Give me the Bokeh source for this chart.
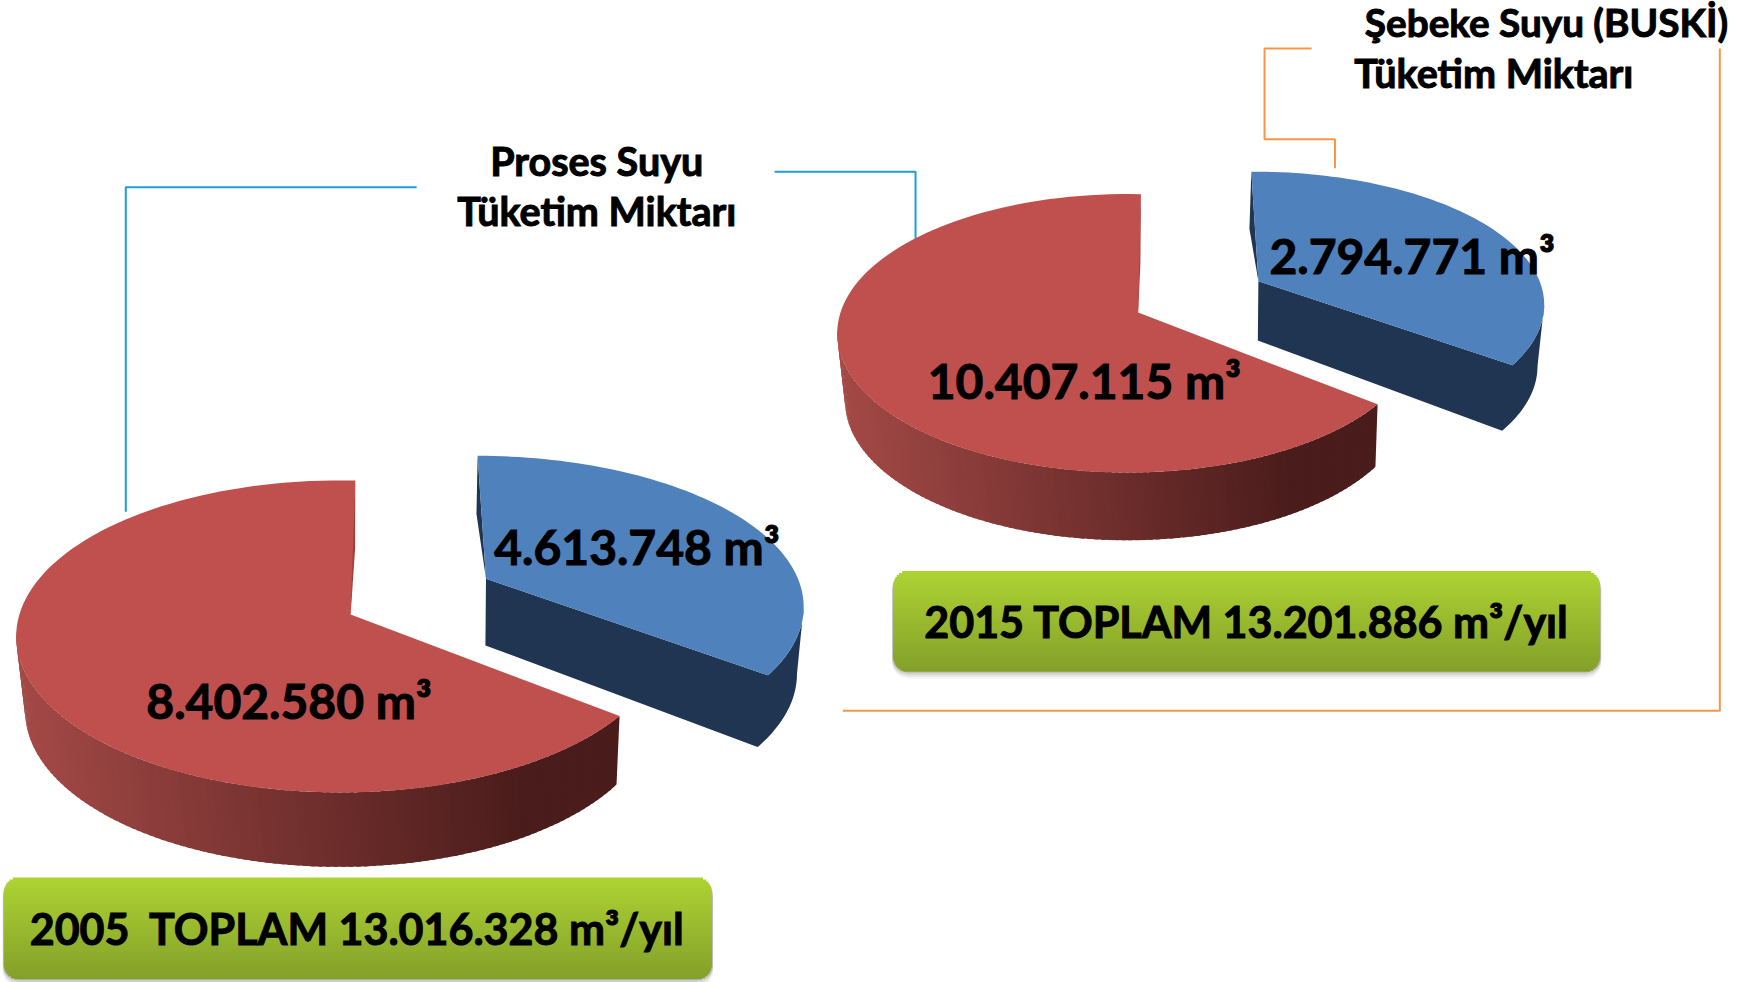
import math
from bokeh.plotting import figure
from bokeh.models import Range1d
from bokeh.core.properties import value
from bokeh.embed import file_html
from bokeh.resources import INLINE

# ---- data ----
years = ["2005", "2015"]
process_water = [8402580, 10407115]
mains_water = [4613748, 2794771]
process_labels = ["8.402.580 m³", "10.407.115 m³"]
mains_labels = ["4.613.748 m³", "2.794.771 m³"]
total_labels = ["2005\u00a0 TOPLAM 13.016.328 m³/yıl", "2015 TOPLAM 13.201.886 m³/yıl"]
# The source graphic draws both pies with the same slice sizes, whatever the
# printed figures say, so the drawn shares are read off the picture.
drawn_share_process = [0.672, 0.672]
drawn_share_mains = [0.325, 0.325]
series_names = ["Proses Suyu\nTüketim Miktarı", "Şebeke Suyu (BUSKİ)", "Tüketim Miktarı"]

# ---- layout (in the shrunk picture's pixels, scaled below) ----
S = 1754 / 1568
FONT = value("Lato")
p = figure(width=1754, height=982, output_backend="svg", toolbar_location=None,
           x_range=Range1d(0, 1754), y_range=Range1d(982, 0),
           min_border=0, outline_line_color=None, background_fill_color="white")
p.axis.visible = False
p.grid.visible = False


def ell(e, deg):
    a = math.radians(deg)
    return (e[0] + e[2] * math.cos(a), e[1] - e[3] * math.sin(a))


def arc(e, a0, a1, n=120):
    pts = [ell(e, a0 + (a1 - a0) * i / n) for i in range(n + 1)]
    return [q[0] * S for q in pts], [q[1] * S for q in pts]


def lerp_hex(c0, c1, t):
    t = max(0.0, min(1.0, t))
    return "#%02x%02x%02x" % tuple(round(a + (b - a) * t) for a, b in zip(c0, c1))


def draw_pie(red_top, red_bot, red_apex, red_notch, blue_top, blue_bot, blue_apex, blue_apex2,
             blue_notch, red_share, blue_share, blue_start):
    # process-water slice
    r0 = 87.4
    r1 = r0 + 360 * red_share
    # outer wall with horizontal gradient, strip by strip
    n = 110
    xs, ys, cols = [], [], []
    xl = red_top[0] - red_top[2]
    xr = red_top[0] + red_top[2] * 0.56
    span = r1 - 178

    def low(t):
        # the lower rim runs slightly further round than the upper one
        return t + 2.5 * (t - 178) / span

    for i in range(n):
        t0 = 178 + span * i / n
        t1 = min(178 + span * (i + 1.6) / n, r1)
        a, b = ell(red_top, t0), ell(red_top, t1)
        c, d = ell(red_bot, low(t1)), ell(red_bot, low(t0))
        xs.append([a[0] * S, b[0] * S, c[0] * S, d[0] * S])
        ys.append([a[1] * S, b[1] * S, c[1] * S, d[1] * S])
        tt = (d[0] - xl) / (xr - xl)
        cols.append(lerp_hex((0xa5, 0x4a, 0x47), (0x4a, 0x1c, 0x1b), tt))
    p.patches(xs, ys, fill_color=cols, line_color=None)
    # inner wall sliver
    top_pt = ell(red_top, r0)
    p.patch([top_pt[0] * S, red_notch[0] * S, red_apex[0] * S, red_apex[0] * S - 2],
            [top_pt[1] * S, red_notch[1] * S, red_apex[1] * S, red_apex[1] * S - 30],
            fill_color="#9c403e", line_color=None)
    # top surface
    ax, ay = arc(red_top, r0, r1)
    p.patch(ax + [red_apex[0] * S], ay + [red_apex[1] * S], fill_color="#c0504d", line_color=None)

    # mains-water slice
    b1 = 90 - 360 * blue_share
    ox, oy = arc(blue_top, b1, 0, 40)
    ix, iy = arc(blue_bot, 0, b1 - 2, 40)
    p.patch([blue_apex[0] * S] + ox + ix + [blue_apex2[0] * S],
            [blue_apex[1] * S] + oy + iy + [blue_apex2[1] * S],
            fill_color="#1f3552", line_color=None)
    top_b = ell(blue_top, blue_start)
    p.patch([top_b[0] * S, blue_notch[0] * S, blue_apex[0] * S],
            [top_b[1] * S, blue_notch[1] * S, blue_apex[1] * S],
            fill_color="#1f3552", line_color=None)
    ax, ay = arc(blue_top, blue_start, b1, 80)
    p.patch(ax + [blue_apex[0] * S], ay + [blue_apex[1] * S], fill_color="#4f81bd", line_color=None)


def draw_box(x0, x1, y0, y1, rad=14):
    x0, x1, y0, y1, rad = x0 * S, x1 * S, y0 * S, y1 * S, rad * S

    def inset(y):
        if y < y0 + rad:
            d = y0 + rad - y
        elif y > y1 - rad:
            d = y - (y1 - rad)
        else:
            return 0.0
        return rad - math.sqrt(max(rad * rad - d * d, 0))

    # soft shadow
    for k, alpha in ((7, 0.05), (5, 0.08), (3, 0.12), (1, 0.16)):
        px, py = [], []
        n = 60
        for i in range(n + 1):
            y = y0 + (y1 - y0) * i / n
            px.append(x0 + inset(y) - 1)
            py.append(y + k)
        for i in range(n, -1, -1):
            y = y0 + (y1 - y0) * i / n
            px.append(x1 - inset(y) + 1)
            py.append(y + k)
        p.patch(px, py, fill_color="#404040", fill_alpha=alpha, line_color=None)
    # gradient body
    n = int((y1 - y0) / 2)
    l, r, t, b, c = [], [], [], [], []
    for i in range(n):
        ya = y0 + (y1 - y0) * i / n
        yb = y0 + (y1 - y0) * (i + 1.5) / n
        ym = (ya + min(yb, y1)) / 2
        l.append(x0 + inset(ym))
        r.append(x1 - inset(ym))
        t.append(ya)
        b.append(min(yb, y1))
        c.append(lerp_hex((0xad, 0xd3, 0x33), (0x84, 0xa0, 0x2a), i / (n - 1)))
    p.quad(left=l, right=r, top=t, bottom=b, fill_color=c, line_color=None)


# ---- leader lines ----
BLUE_LINE = "#1e9fcf"
ORANGE_LINE = "#f79646"
p.line([372 * S, 112 * S, 112 * S], [167 * S, 167 * S, 457 * S], line_color=BLUE_LINE, line_width=2)
p.line([692 * S, 818 * S, 818 * S], [153 * S, 153 * S, 217 * S], line_color=BLUE_LINE, line_width=2)
p.line([1172 * S, 1130 * S, 1130 * S, 1193 * S, 1193 * S], [43 * S, 43 * S, 124 * S, 124 * S, 150 * S],
       line_color=ORANGE_LINE, line_width=2)
p.line([1537 * S, 1537 * S, 753 * S], [43 * S, 635 * S, 635 * S], line_color=ORANGE_LINE, line_width=2)

# ---- pies: (cx, cy, rx, ry) ----
draw_pie((304, 568.5, 290, 139.5), (303, 635, 281, 139.5), (313, 549), (317, 490),
         (425, 542, 293, 135), (431, 602, 281, 135), (434, 517), (433.5, 576.5), (425.5, 459),
         drawn_share_process[0], drawn_share_mains[0], 89.7)
draw_pie((1007.7, 297.5, 259.7, 124.5), (1007, 358, 252, 124.5), (1017, 279), (1019, 235),
         (1120, 272, 260, 119), (1122, 327, 252, 119), (1124.5, 251), (1124, 304), (1116.5, 204),
         drawn_share_process[1], drawn_share_mains[1], 90.4)

# ---- green boxes ----
draw_box(3, 636, 784, 875)
draw_box(798, 1430, 510, 600)


def label(x, y, s, size):
    p.text([x * S], [y * S], text=[s], text_font=FONT, text_font_style="bold", text_font_size=value(size),
           text_color="black", text_align="center", text_baseline="middle",
           text_outline_color="black")


label(258, 626, process_labels[0], "48px")
label(569, 488, mains_labels[0], "48px")
label(969, 340, process_labels[1], "48px")
label(1262, 228, mains_labels[1], "48px")
label(319, 830, total_labels[0], "43px")
label(1114, 555, total_labels[1], "43px")

a, b = series_names[0].split("\n")
label(533, 143, a, "39.5px")
label(533, 188, b, "39.5px")
label(1382, 19, series_names[1], "38.7px")
label(1335, 64, series_names[2], "39.5px")

open("out.html", "w").write(file_html(p, INLINE))
